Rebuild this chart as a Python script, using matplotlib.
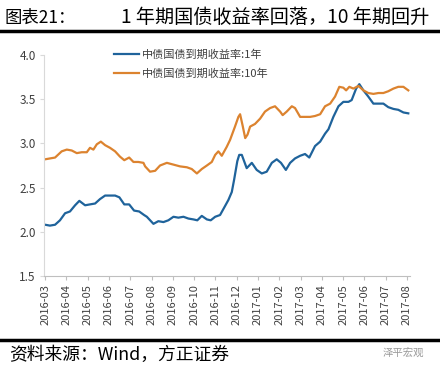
import matplotlib
matplotlib.use("Agg")
import matplotlib.pyplot as plt
from matplotlib.lines import Line2D

plt.rcParams['font.family'] = ['Noto Sans CJK SC', 'DejaVu Sans']

# month index: 0 = 2016-03, 17 = 2017-08
months = ['2016-03', '2016-04', '2016-05', '2016-06', '2016-07', '2016-08',
          '2016-09', '2016-10', '2016-11', '2016-12', '2017-01', '2017-02',
          '2017-03', '2017-04', '2017-05', '2017-06', '2017-07', '2017-08']

t_1y = [0, 0.23, 0.47, 0.70, 0.94, 1.17, 1.41, 1.61, 1.88, 2.11, 2.35, 2.58,
        2.82, 3.05, 3.29, 3.49, 3.72, 3.95, 4.18, 4.42, 4.65, 4.78, 5.09,
        5.32, 5.56, 5.79, 6.03, 6.26, 6.50, 6.73, 6.97, 7.15, 7.36, 7.60,
        7.78, 7.99, 8.22, 8.45, 8.61, 8.77, 8.88, 9.03, 9.12, 9.24, 9.47,
        9.71, 9.94, 10.18, 10.41, 10.65, 10.88, 11.08, 11.31, 11.51, 11.74,
        11.98, 12.21, 12.41, 12.68, 12.92, 13.15, 13.31, 13.54, 13.78, 14.01,
        14.25, 14.40, 14.61, 14.76, 14.95, 15.18, 15.42, 15.66, 15.89, 16.12,
        16.36, 16.59, 16.83, 17.06]
y_1y = [2.08, 2.07, 2.08, 2.13, 2.21, 2.23, 2.30, 2.35, 2.30, 2.31, 2.32, 2.37,
        2.41, 2.41, 2.41, 2.39, 2.31, 2.31, 2.24, 2.23, 2.19, 2.17, 2.09,
        2.12, 2.11, 2.13, 2.17, 2.16, 2.17, 2.15, 2.14, 2.13, 2.18, 2.14,
        2.13, 2.17, 2.19, 2.29, 2.36, 2.45, 2.59, 2.80, 2.87, 2.87, 2.72,
        2.78, 2.70, 2.66, 2.68, 2.78, 2.82, 2.78, 2.70, 2.78, 2.83,
        2.86, 2.88, 2.84, 2.97, 3.02, 3.11, 3.16, 3.30, 3.42, 3.47,
        3.47, 3.49, 3.62, 3.67, 3.60, 3.53, 3.45, 3.45, 3.45, 3.41,
        3.39, 3.38, 3.35, 3.34]

t_10y = [0, 0.47, 0.78, 1.02, 1.25, 1.49, 1.72, 1.96, 2.11, 2.27, 2.43, 2.62,
         2.82, 3.05, 3.29, 3.52, 3.72, 3.95, 4.15, 4.38, 4.62, 4.70, 4.93,
         5.17, 5.40, 5.72, 6.03, 6.34, 6.66, 6.89, 7.13, 7.36, 7.60, 7.83,
         7.99, 8.14, 8.30, 8.53, 8.69, 8.92, 9.08, 9.16, 9.28, 9.40, 9.51,
         9.63, 9.86, 10.10, 10.33, 10.57, 10.80, 11.04, 11.16, 11.35, 11.59,
         11.74, 11.98, 12.21, 12.45, 12.68, 12.92, 13.15, 13.39, 13.62, 13.82,
         14.01, 14.14, 14.29, 14.48, 14.72, 14.95, 15.18, 15.42, 15.66, 15.89,
         16.12, 16.36, 16.59, 16.83, 17.06]
y_10y = [2.82, 2.84, 2.91, 2.93, 2.92, 2.89, 2.90, 2.90, 2.95, 2.93, 2.99, 3.02,
         2.98, 2.95, 2.91, 2.85, 2.81, 2.84, 2.79, 2.79, 2.78, 2.74, 2.68,
         2.69, 2.75, 2.78, 2.76, 2.74, 2.73, 2.71, 2.66, 2.71, 2.75, 2.79,
         2.87, 2.91, 2.86, 2.96, 3.04, 3.19, 3.30, 3.33, 3.20, 3.06, 3.10,
         3.19, 3.22, 3.28, 3.36, 3.40, 3.42, 3.36, 3.32, 3.36, 3.42,
         3.40, 3.30, 3.30, 3.30, 3.31, 3.33, 3.42, 3.45, 3.53, 3.64,
         3.63, 3.60, 3.64, 3.62, 3.65, 3.60, 3.57, 3.56, 3.57, 3.57,
         3.59, 3.62, 3.64, 3.64, 3.60]

fig = plt.figure(figsize=(4.4, 3.7), dpi=100)
ax = fig.add_axes([44 / 440, 94 / 370, 366 / 440, 221 / 370])

blue = '#1f639b'
orange = '#dc832f'
ax.plot(t_1y, y_1y, color=blue, lw=1.6, label='中债国债到期收益率:1年')
ax.plot(t_10y, y_10y, color=orange, lw=1.6, label='中债国债到期收益率:10年')

ax.set_xlim(-0.05, 17.14)
ax.set_ylim(1.5, 4.0)
ax.set_yticks([1.5, 2.0, 2.5, 3.0, 3.5, 4.0])
ax.set_yticklabels(['1.5', '2.0', '2.5', '3.0', '3.5', '4.0'])
ax.set_xticks(range(len(months)))
ax.set_xticklabels(months, rotation=90)

for s in ['top', 'right']:
    ax.spines[s].set_visible(False)
ax.spines['left'].set_color('#d9d9d9')
ax.spines['bottom'].set_color('#bfbfbf')
ax.tick_params(axis='x', colors='#bfbfbf', labelcolor='#404040',
               labelsize=8, length=3, pad=3)
ax.tick_params(axis='y', colors='#d9d9d9', labelcolor='#404040',
               labelsize=8.5, length=3, pad=3)

ax.legend(loc='upper left', bbox_to_anchor=(0.165, 1.07), frameon=False,
          fontsize=8, handlelength=2.2, handletextpad=0.3, labelspacing=0.75,
          labelcolor='#404040')

fig.text(0.01, 0.952, '图表21：', fontsize=12.5, va='center')
fig.text(0.975, 0.952, '1 年期国债收益率回落，10 年期回升', fontsize=13.8,
         va='center', ha='right')
fig.add_artist(Line2D([0, 1], [0.916, 0.916], color='black', lw=2.5))
fig.add_artist(Line2D([0, 1], [0.082, 0.082], color='black', lw=2.5))
fig.text(0.02, 0.04, '资料来源：Wind，方正证券', fontsize=12.8, va='center',
         style='italic')
fig.text(0.965, 0.048, '泽平宏观', fontsize=7.5, va='center', ha='right',
         color='#9a9a9a')

fig.savefig('out.png', dpi=100)
